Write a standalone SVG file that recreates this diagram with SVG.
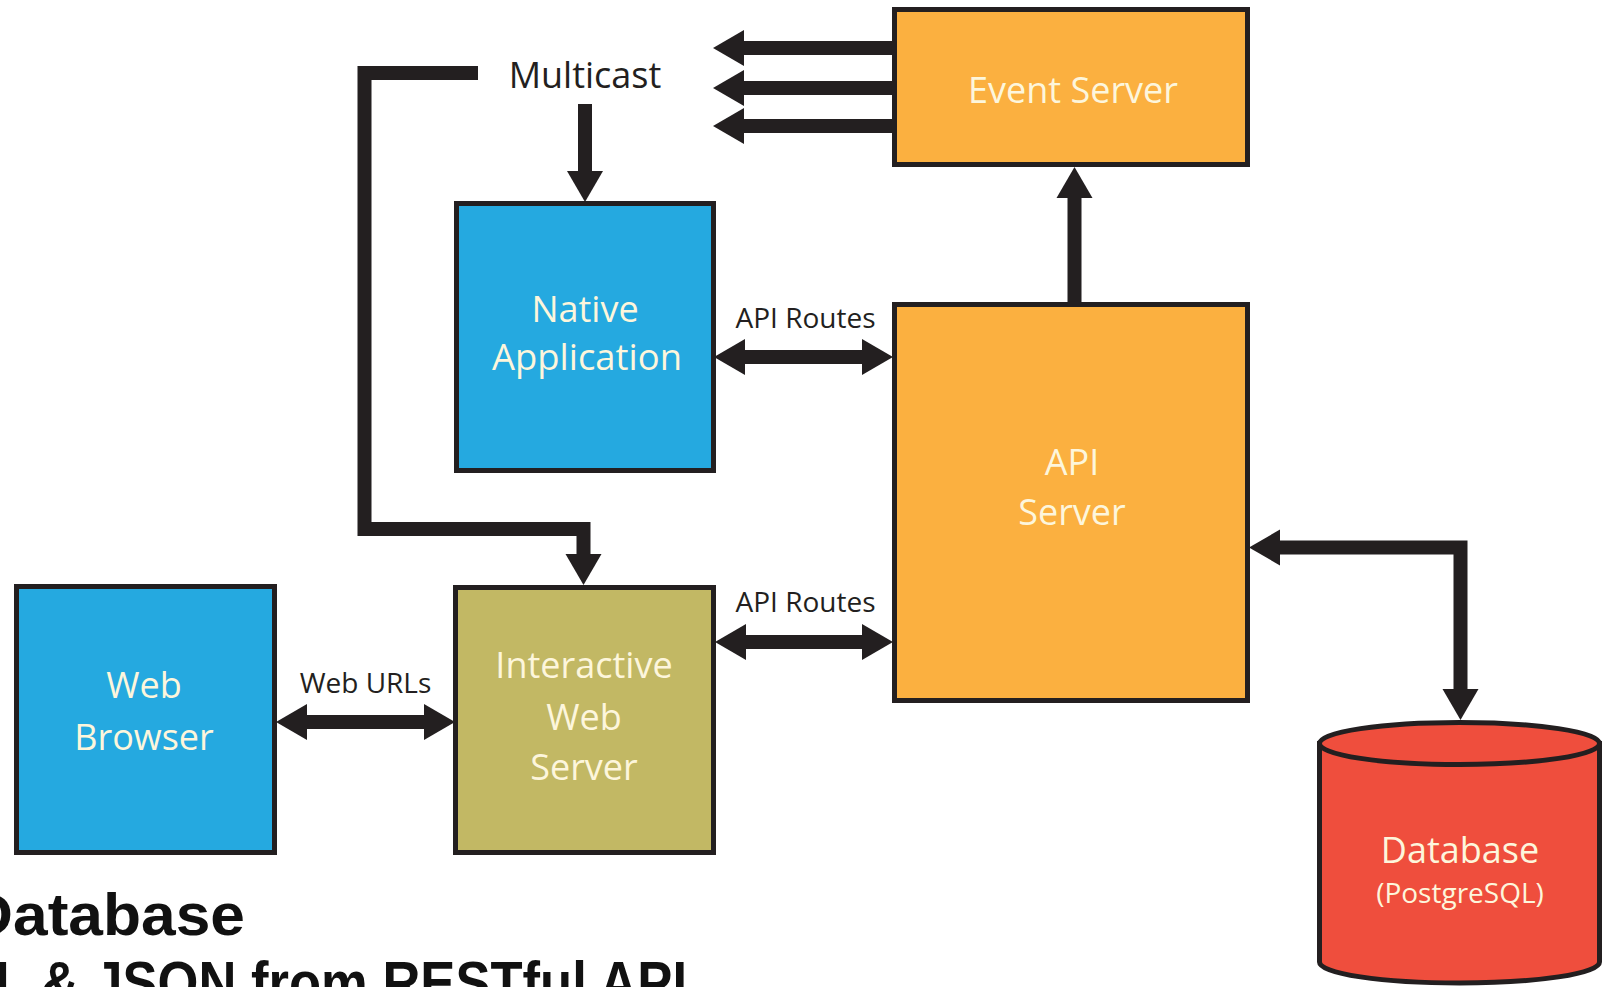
<svg xmlns="http://www.w3.org/2000/svg" width="1606" height="987" viewBox="0 0 1606 987">
  <style>
    .box { stroke: #231f20; stroke-width: 5; }
    .blue { fill: #25a9e0; }
    .orange { fill: #fbb040; }
    .olive { fill: #c2b864; }
    .red { fill: #ef4e3d; }
    .lbl { font-family: "Open Sans", "Noto Sans", sans-serif; font-size: 36px; fill: #fdf6dc; text-anchor: middle; }
    .note { font-family: "Open Sans", "Noto Sans", sans-serif; font-size: 28px; fill: #231f20; text-anchor: middle; }
    .title { font-family: "Liberation Sans", Arial, sans-serif; font-weight: bold; font-size: 60px; fill: #111; }
    .wire { fill: none; stroke: #231f20; stroke-width: 14; stroke-linecap: butt; stroke-linejoin: miter; }
  </style>
  <defs>
    <marker id="head" markerUnits="userSpaceOnUse" markerWidth="32" markerHeight="40" viewBox="-1 -19 32 38" refX="0" refY="0" orient="auto-start-reverse">
      <path d="M-1,-18 L30,0 L-1,18 z" fill="#231f20"/>
    </marker>
  </defs>

  <rect width="1606" height="987" fill="#ffffff"/>

  <!-- connectors -->
  <g id="connectors">
    <!-- event fan-out -->
    <line class="wire" x1="892" y1="48" x2="743" y2="48" marker-end="url(#head)"/>
    <line class="wire" x1="892" y1="88" x2="743" y2="88" marker-end="url(#head)"/>
    <line class="wire" x1="892" y1="126" x2="743" y2="126" marker-end="url(#head)"/>
    <!-- multicast to native app -->
    <line class="wire" x1="585" y1="104" x2="585" y2="172" marker-end="url(#head)"/>
    <!-- multicast loop to web server -->
    <polyline class="wire" points="478,73 364.5,73 364.5,529 583.5,529 583.5,555" marker-end="url(#head)"/>
    <!-- api server to event server -->
    <line class="wire" x1="1074.5" y1="302" x2="1074.5" y2="197" marker-end="url(#head)"/>
    <!-- API routes -->
    <line class="wire" x1="744" y1="357" x2="863" y2="357" marker-start="url(#head)" marker-end="url(#head)"/>
    <line class="wire" x1="745" y1="642" x2="863" y2="642" marker-start="url(#head)" marker-end="url(#head)"/>
    <!-- web URLs -->
    <line class="wire" x1="306" y1="722" x2="425" y2="722" marker-start="url(#head)" marker-end="url(#head)"/>
    <!-- api server to database -->
    <polyline class="wire" points="1279,547.5 1460.5,547.5 1460.5,690" marker-start="url(#head)" marker-end="url(#head)"/>
  </g>

  <!-- connector labels -->
  <g id="labels">
    <text class="note" x="585" y="88" style="font-size:36px">Multicast</text>
    <text class="note" x="805.5" y="328">API Routes</text>
    <text class="note" x="805.5" y="612">API Routes</text>
    <text class="note" x="365.5" y="693">Web URLs</text>
  </g>

  <g id="event-server">
    <rect class="box orange" x="894.5" y="9.5" width="353" height="155"/>
    <text class="lbl" x="1073" y="103">Event Server</text>
  </g>

  <g id="native-application">
    <rect class="box blue" x="456.5" y="203.5" width="257" height="267"/>
    <text class="lbl" x="585" y="322">Native</text>
    <text class="lbl" x="587" y="370" textLength="190" lengthAdjust="spacingAndGlyphs">Application</text>
  </g>

  <g id="api-server">
    <rect class="box orange" x="894.5" y="304.5" width="353" height="396"/>
    <text class="lbl" x="1072" y="475">API</text>
    <text class="lbl" x="1072" y="525">Server</text>
  </g>

  <g id="web-browser">
    <rect class="box blue" x="16.5" y="586.5" width="258" height="266"/>
    <text class="lbl" x="144" y="698">Web</text>
    <text class="lbl" x="144" y="750">Browser</text>
  </g>

  <g id="interactive-web-server">
    <rect class="box olive" x="455.5" y="587.5" width="258" height="265"/>
    <text class="lbl" x="584" y="678">Interactive</text>
    <text class="lbl" x="584" y="730">Web</text>
    <text class="lbl" x="584" y="780">Server</text>
  </g>

  <g id="database">
    <path class="box red" d="M1319.5,743.5 V962 A140,21 0 0 0 1599.5,962 V743.5 z"/>
    <ellipse class="box red" cx="1459.5" cy="743.5" rx="140" ry="21"/>
    <text class="lbl" x="1460" y="863">Database</text>
    <text class="lbl" x="1460" y="903" style="font-size:28px">(PostgreSQL)</text>
  </g>

  <!-- caption, running off the left and bottom edges -->
  <g id="caption">
    <text class="title" x="-32" y="935" textLength="277" lengthAdjust="spacingAndGlyphs">Database</text>
    <text class="title" x="-5" y="1003" textLength="692" lengthAdjust="spacingAndGlyphs">L &amp; JSON from RESTful API</text>
  </g>
</svg>
